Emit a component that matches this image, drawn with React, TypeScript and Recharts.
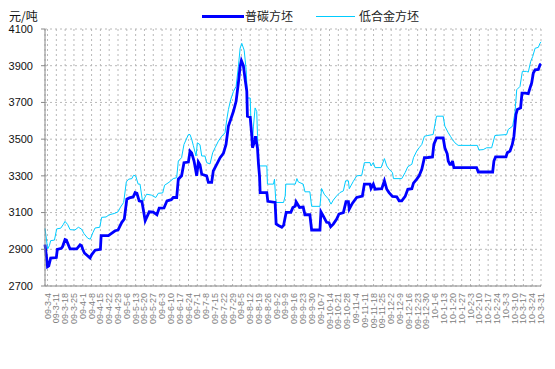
import React from 'react';
import { LineChart, Line, XAxis, YAxis, CartesianGrid } from 'recharts';

// x = days since 09-3-2, labels are every Wednesday starting 09-3-4
const dateLabels = [
  '09-3-4', '09-3-11', '09-3-18', '09-3-25', '09-4-1', '09-4-8', '09-4-15', '09-4-22', '09-4-29',
  '09-5-6', '09-5-13', '09-5-20', '09-5-27', '09-6-3', '09-6-10', '09-6-17', '09-6-24',
  '09-7-1', '09-7-8', '09-7-15', '09-7-22', '09-7-29', '09-8-5', '09-8-12', '09-8-19', '09-8-26',
  '09-9-2', '09-9-9', '09-9-16', '09-9-23', '09-9-30', '09-10-7', '09-10-14', '09-10-21', '09-10-28',
  '09-11-4', '09-11-11', '09-11-18', '09-11-25', '09-12-2', '09-12-9', '09-12-16', '09-12-23', '09-12-30',
  '10-1-6', '10-1-13', '10-1-20', '10-1-27', '10-2-3', '10-2-10', '10-2-17', '10-2-24',
  '10-3-3', '10-3-10', '10-3-17', '10-3-24', '10-3-31',
];
const yTicks = [2700, 2900, 3100, 3300, 3500, 3700, 3900, 4100];

// 普碳方坯
const carbonDays = [
  0, 1, 2, 3, 4.5, 9, 9.8, 13, 14, 15.9, 17, 19.9, 25.2, 27.9, 29, 30, 31.3, 35.8, 37, 39.8,
  44, 44.6, 50.4, 52, 55.7, 58, 61, 63, 65, 67, 70, 71.6, 73, 74.8, 77, 79.6, 80.5, 82.8, 86, 88.9,
  90.7, 94.5, 96.9, 100.3, 101.9, 104.6, 105.9, 108.5, 110.4, 113.9, 115.2, 116.5, 118.4, 120.5,
  121.8, 123.1, 124.5, 128.4, 129.8, 132.4, 133.7, 136.4, 139.1, 141.7, 143.8, 145.7, 147.5, 149.7,
  151.8, 153.6, 155, 156, 157.6, 159, 160.3, 160.8, 163, 164.3, 164.8, 166.1, 167.2, 168.8, 169.6,
  170.4, 170.9, 176.2, 177, 182.8, 183.6, 185.5, 188.1, 189.5, 190.8, 191.6, 195.3, 196.9, 198.8,
  199.5, 202.2, 205.1, 206.5, 210.4, 211.8, 218.4, 219.2, 221, 223.7, 225.6, 226.9, 229, 231.7,
  233.5, 237, 239.1, 241, 241.7, 244.1, 247.6, 252.1, 253.7, 258.2, 259, 260.8, 262.2, 267.5, 269.6,
  271.5, 273.3, 276, 279.4, 281.3, 283.4, 286.1, 288.2, 291.4, 292.7, 295.3, 297.2, 299.3, 301.4,
  304.1, 307.8, 308.9, 311, 316.3, 317.6, 319.5, 320.3, 321.6, 322.9, 323.7, 324.8, 342.8, 344.2,
  355.6, 356.6, 357.9, 366.2, 367.2, 369.4, 371.2, 372.5, 374.1, 375.2, 377.8, 378.9, 381.6, 383.9,
  385.3, 386.6, 387.9, 389.3, 391.9, 393.2, 394,
];
const carbonPrices = [
  2925, 2870, 2805, 2810, 2852, 2855, 2900, 2905, 2915, 2953, 2950, 2902, 2902, 2924, 2920, 2900, 2880, 2853, 2870, 2895,
  2900, 2974, 2975, 2983, 3001, 3005, 3047, 3065, 3173, 3180, 3185, 3209, 3205, 3164, 3160, 3056, 3070, 3104, 3102, 3088,
  3124, 3125, 3164, 3170, 3182, 3182, 3282, 3300, 3372, 3375, 3435, 3425, 3381, 3300,
  3375, 3360, 3309, 3300, 3264, 3264, 3327, 3363, 3399, 3422, 3471, 3571, 3607, 3652,
  3706, 3806, 3896, 3928, 3900, 3824, 3760, 3625, 3620, 3516, 3453, 3480, 3516, 3450, 3363,
  3300, 3209, 3209, 3161, 3155, 3038, 3030, 3020, 3030, 3074, 3101, 3101, 3128, 3135,
  3159, 3128, 3130, 3088, 3088, 3005, 3005, 3104, 3082, 3047, 3045, 3023, 3037, 3065,
  3092, 3100, 3159, 3159, 3119, 3150, 3182, 3190, 3255, 3255, 3232, 3255, 3227, 3230, 3273,
  3227, 3209, 3188, 3186, 3164, 3164, 3188, 3227, 3230, 3260, 3282, 3300, 3336, 3399,
  3400, 3403, 3471, 3507, 3507, 3453, 3420, 3381, 3363, 3363, 3381, 3345, 3345, 3321,
  3321, 3381, 3403, 3403, 3426, 3435, 3471, 3516, 3634, 3661, 3670, 3751, 3751, 3748,
  3779, 3806, 3860, 3878, 3880, 3905, 3910,
];

// 低合金方坯
const alloyDays = [
  0, 2.1, 3.5, 4.5, 7.5, 9.3, 12.5, 14.5, 15.9, 18, 19.9, 23.8, 26.5, 29, 31, 34, 36, 38, 39.8,
  43.5, 45, 48.5, 51, 55, 58, 60, 62.5, 64.6, 66.5, 69, 70.3, 72, 74, 75.5, 77.5, 80.7, 84.5, 88, 90,
  93.5, 95, 98.5, 101.9, 104.6, 105.9, 108.5, 110.4, 113.9, 115.2, 116.5, 117.8, 120, 121, 123.1,
  124.5, 127.1, 128.4, 131.1, 133.2, 135.1, 137.7, 140.4, 143, 144.4, 145.7, 147.5, 149.7, 151.8,
  153.6, 155, 156.3, 158.2, 159.8, 160.8, 163, 163.7, 164.8, 165.6, 166.9, 168.2, 168.8, 169.6,
  170.9, 176.2, 176.7, 181.5, 182.3, 183.4, 189.5, 190.8, 191.3, 198.8, 200.1, 201.2, 205.1, 206.5,
  210.4, 211.8, 218.4, 219.7, 221.8, 225, 227.2, 229, 231.7, 234.3, 237, 238.8, 241, 241.7, 244.9,
  247.6, 251.6, 253.7, 258.2, 259, 260.8, 262.2, 267, 269.6, 271.5, 273.3, 276, 276.8, 283.4, 286.1,
  288.2, 291.4, 292.7, 295.3, 297.2, 299.3, 301.4, 304.1, 308.3, 311, 316.3, 317.6, 320.3, 322.1,
  323.7, 325.6, 328.2, 343.4, 344.7, 348.1, 350.8, 354.8, 357.4, 366.7, 368, 371.5, 373.3, 374.7,
  377.3, 379.2, 382.6, 383.9, 385.8, 387.4, 389.3, 391.9, 393.2, 394,
];
const alloyPrices = [
  3014, 2902, 2920, 2947, 2950, 3011, 3015, 3035, 3052, 3035, 3007, 3005, 3020, 3010, 2985, 2960, 2955, 2990, 3016,
  3020, 3074, 3076, 3088, 3095, 3104, 3130, 3155, 3267, 3282, 3285, 3303, 3300, 3255, 3255, 3159, 3200, 3195, 3182, 3205,
  3207, 3249, 3265, 3285, 3290, 3381, 3399, 3471, 3525, 3525, 3500, 3466, 3408, 3480, 3470,
  3408, 3408, 3372, 3365, 3426, 3453, 3489, 3516, 3535, 3607, 3661, 3715, 3760, 3787,
  3896, 3995, 4022, 3985, 3878, 3724, 3724, 3571, 3480, 3571, 3670, 3650, 3520, 3363,
  3354, 3354, 3255, 3255, 3282, 3155, 3155, 3191, 3255, 3255, 3285, 3267, 3255, 3213,
  3213, 3134, 3134, 3231, 3200, 3175, 3146, 3168, 3191, 3209, 3218, 3273, 3273, 3230, 3270,
  3300, 3303, 3372, 3372, 3354, 3372, 3345, 3345, 3394, 3354, 3336, 3318, 3285, 3285, 3318,
  3350, 3363, 3399, 3435, 3453, 3471, 3516, 3520, 3525, 3625, 3625, 3571, 3535, 3515,
  3498, 3480, 3466, 3466, 3441, 3443, 3453, 3453, 3520, 3525, 3553, 3571, 3643, 3769,
  3787, 3869, 3869, 3865, 3923, 3950, 3995, 4000, 4022, 4030,
];

const carbonData = carbonDays.map((d, i) => ({ d, v: carbonPrices[i] }));
const alloyData = alloyDays.map((d, i) => ({ d, v: alloyPrices[i] }));
const tickDays = dateLabels.map((_, i) => 2 + i * 7);

const cjk = '"Noto Sans CJK SC", "Liberation Sans", sans-serif';

const DateTick = (props: any) => {
  const { x, y, payload } = props;
  const label = dateLabels[Math.round((payload.value - 2) / 7)];
  return (
    <text
      x={x}
      y={y}
      transform={`rotate(-90 ${x} ${y})`}
      textAnchor="end"
      dominantBaseline="central"
      fontSize={9}
      fontFamily='"Liberation Sans", Arial, sans-serif'
      fill="#808080"
    >
      {label}
    </text>
  );
};

const App: React.FC = () => {
  return (
    <div style={{ position: 'absolute', left: 0, top: 0, width: 555, height: 369, background: '#fff' }}>
      <div style={{ position: 'absolute', left: 9, top: 8, fontSize: 12, lineHeight: '16px', fontFamily: cjk, color: '#111' }}>
        元/吨
      </div>
      {/* legend */}
      <div style={{ position: 'absolute', left: 202, top: 15, width: 42, height: 3, background: '#0000FF' }} />
      <div style={{ position: 'absolute', left: 245, top: 8, fontSize: 12, lineHeight: '16px', fontFamily: cjk, color: '#222' }}>
        普碳方坯
      </div>
      <div style={{ position: 'absolute', left: 316, top: 16, width: 39, height: 1, background: '#00CCFF' }} />
      <div style={{ position: 'absolute', left: 359, top: 8, fontSize: 12, lineHeight: '16px', fontFamily: cjk, color: '#222' }}>
        低合金方坯
      </div>

      <LineChart width={555} height={369} margin={{ top: 29, right: 14, bottom: 0, left: 0 }}>
        <CartesianGrid stroke="#b8b8b8" strokeDasharray="2 3" />
        <XAxis
          dataKey="d"
          type="number"
          domain={[0, 394]}
          ticks={tickDays}
          interval={0}
          height={83}
          tick={<DateTick />}
          tickLine={false}
          tickSize={4}
          tickMargin={3}
          axisLine={{ stroke: '#888' }}
        />
        <YAxis
          type="number"
          domain={[2700, 4100]}
          ticks={yTicks}
          interval={0}
          width={45}
          tickSize={4}
          tickMargin={8}
          tick={{ fontSize: 11, fill: '#111', fontFamily: '"Liberation Sans", Arial, sans-serif' }}
          tickLine={{ stroke: '#888' }}
          axisLine={{ stroke: '#888' }}
        />
        <Line
          data={alloyData}
          dataKey="v"
          type="linear"
          stroke="#00CCFF"
          strokeWidth={1}
          dot={false}
          isAnimationActive={false}
        />
        <Line
          data={carbonData}
          dataKey="v"
          type="linear"
          stroke="#0000FF"
          strokeWidth={2.8}
          dot={false}
          isAnimationActive={false}
        />
      </LineChart>
    </div>
  );
};

export default App;
